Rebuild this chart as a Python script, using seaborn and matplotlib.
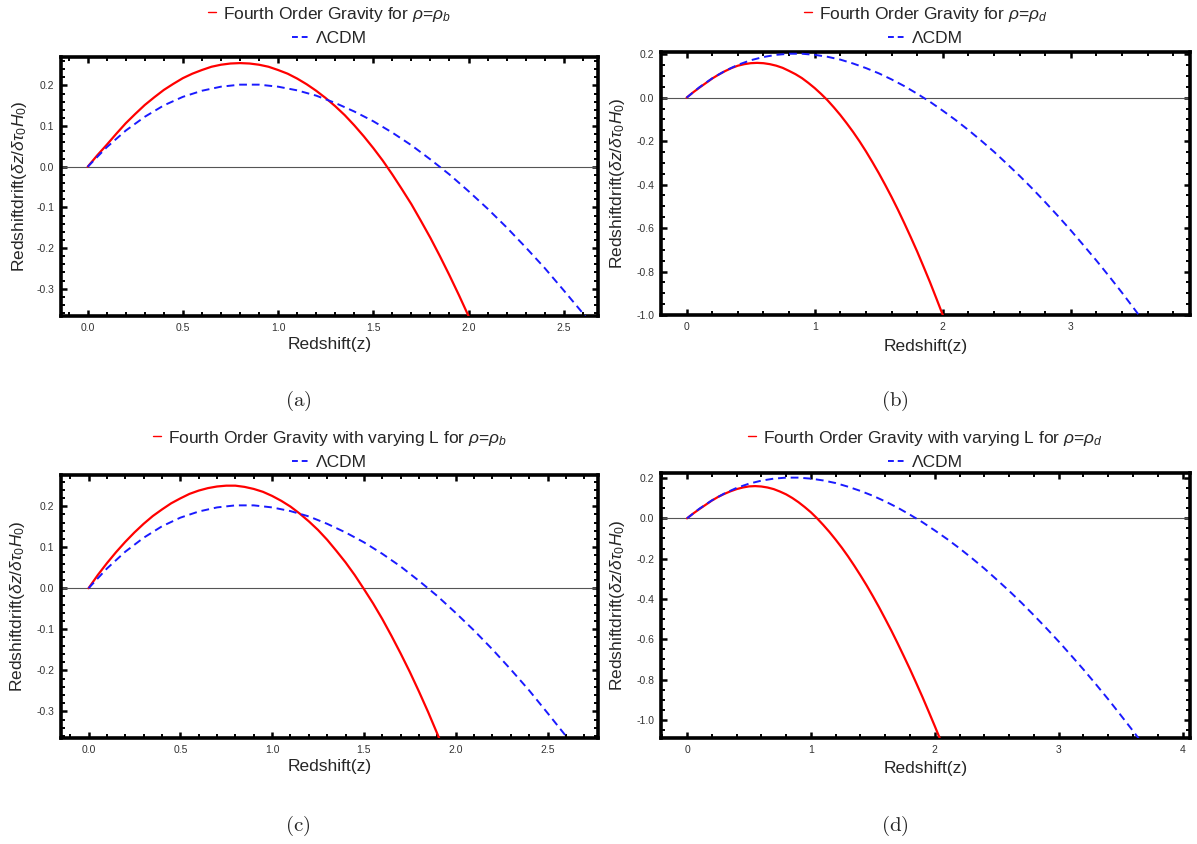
import matplotlib
matplotlib.use("Agg")
import matplotlib.pyplot as plt
import seaborn as sns
from matplotlib.lines import Line2D
from matplotlib.ticker import MultipleLocator, FormatStrFormatter

# ---------------- data ----------------
z_lcdm = [0.0, 0.1, 0.2, 0.3, 0.4, 0.5, 0.6, 0.7, 0.8, 0.9,
          1.0, 1.1, 1.2, 1.3, 1.4, 1.5, 1.6, 1.7, 1.8, 1.9,
          2.0, 2.1, 2.2, 2.3, 2.4, 2.5, 2.6, 2.7, 2.8, 2.9,
          3.0, 3.1, 3.2, 3.3, 3.4, 3.5, 3.6, 3.7, 3.8]
drift_lcdm = [0.000, 0.048, 0.089, 0.123, 0.151, 0.172, 0.187, 0.197, 0.202, 0.202,
              0.197, 0.188, 0.175, 0.157, 0.136, 0.112, 0.084, 0.053, 0.018, -0.019,
              -0.060, -0.103, -0.149, -0.198, -0.249, -0.304, -0.360, -0.419, -0.481, -0.545,
              -0.611, -0.680, -0.750, -0.823, -0.898, -0.976, -1.055, -1.137, -1.220]

z_red = [0.00, 0.05, 0.10, 0.15, 0.20, 0.25, 0.30, 0.35, 0.40, 0.45,
         0.50, 0.55, 0.60, 0.65, 0.70, 0.75, 0.80, 0.85, 0.90, 0.95,
         1.00, 1.05, 1.10, 1.15, 1.20, 1.25, 1.30, 1.35, 1.40, 1.45,
         1.50, 1.55, 1.60, 1.65, 1.70, 1.75, 1.80, 1.85, 1.90, 1.95,
         2.00, 2.05, 2.10]

drift_red_a = [0.000, 0.028, 0.054, 0.081, 0.107, 0.130, 0.152, 0.171, 0.189, 0.204,
               0.218, 0.229, 0.238, 0.246, 0.251, 0.254, 0.255, 0.254, 0.251, 0.246,
               0.238, 0.229, 0.217, 0.203, 0.187, 0.169, 0.149, 0.127, 0.102, 0.075,
               0.046, 0.015, -0.019, -0.055, -0.092, -0.133, -0.175, -0.220, -0.267, -0.316,
               -0.367, -0.421, -0.477]

drift_red_b = [0.000, 0.024, 0.046, 0.067, 0.088, 0.106, 0.122, 0.136, 0.147, 0.154,
               0.1585, 0.160, 0.1585, 0.154, 0.147, 0.137, 0.123, 0.108, 0.090, 0.068,
               0.044, 0.017, -0.012, -0.045, -0.080, -0.118, -0.158, -0.201, -0.247, -0.296,
               -0.347, -0.401, -0.457, -0.516, -0.578, -0.642, -0.708, -0.778, -0.849, -0.924,
               -1.000, -1.080, -1.161]

drift_red_c = [0.000, 0.032, 0.061, 0.088, 0.113, 0.136, 0.157, 0.176, 0.192, 0.207,
               0.219, 0.230, 0.238, 0.244, 0.248, 0.250, 0.250, 0.247, 0.242, 0.235,
               0.225, 0.213, 0.199, 0.182, 0.163, 0.142, 0.118, 0.091, 0.063, 0.032,
               -0.002, -0.037, -0.075, -0.116, -0.159, -0.204, -0.252, -0.302, -0.355, -0.410,
               -0.467, -0.527, -0.589]

drift_red_d = [0.000, 0.024, 0.046, 0.067, 0.088, 0.106, 0.121, 0.134, 0.145, 0.153,
               0.1585, 0.160, 0.158, 0.153, 0.145, 0.133, 0.119, 0.101, 0.080, 0.056,
               0.030, 0.000, -0.033, -0.068, -0.106, -0.146, -0.189, -0.235, -0.283, -0.333,
               -0.386, -0.441, -0.499, -0.558, -0.620, -0.684, -0.749, -0.817, -0.886, -0.958,
               -1.031, -1.106, -1.182]

legend_red = [r"Fourth Order Gravity for $\rho$=$\rho_b$",
              r"Fourth Order Gravity for $\rho$=$\rho_d$",
              r"Fourth Order Gravity with varying L for $\rho$=$\rho_b$",
              r"Fourth Order Gravity with varying L for $\rho$=$\rho_d$"]
legend_blue = "ΛCDM"
captions = ["(a)", "(b)", "(c)", "(d)"]
xlabel = "Redshift(z)"
ylabel = r"Redshiftdrift($\delta z/\delta\tau_0 H_0$)"

# ---------------- style ----------------
sns.set_theme(style="white")
plt.rcParams["font.family"] = ["Liberation Sans", "DejaVu Sans"]
plt.rcParams["mathtext.fontset"] = "custom"
plt.rcParams["mathtext.rm"] = "Liberation Sans"
plt.rcParams["mathtext.it"] = "Liberation Sans:italic"
plt.rcParams["mathtext.bf"] = "Liberation Sans:bold"

W, H = 1197, 844
fig = plt.figure(figsize=(W / 100, H / 100), dpi=100)
fig.patch.set_facecolor("white")

# pixel boxes: left, right, top, bottom
panels = [
    dict(box=(61, 598, 57, 316), xlim=(-0.14, 2.68), ylim=(-0.367, 0.27),
         xmaj=0.5, xmin=0.1, ymaj=0.1, ymin=0.02, xfmt="%.1f",
         red=drift_red_a, ylab_x=-0.06, xlab_y=345, cap_y=401, cx=298),
    dict(box=(661, 1190, 52, 315), xlim=(-0.2, 3.93), ylim=(-1.0, 0.21),
         xmaj=1.0, xmin=0.2, ymaj=0.2, ymin=0.05, xfmt="%d",
         red=drift_red_b, ylab_x=-0.064, xlab_y=346, cap_y=401, cx=895),
    dict(box=(61, 598, 475, 738), xlim=(-0.15, 2.775), ylim=(-0.365, 0.276),
         xmaj=0.5, xmin=0.1, ymaj=0.1, ymin=0.02, xfmt="%.1f",
         red=drift_red_c, ylab_x=-0.063, xlab_y=767, cap_y=826, cx=298),
    dict(box=(661, 1190, 473, 738), xlim=(-0.21, 4.06), ylim=(-1.09, 0.225),
         xmaj=1.0, xmin=0.2, ymaj=0.2, ymin=0.05, xfmt="%d",
         red=drift_red_d, ylab_x=-0.064, xlab_y=768, cap_y=826, cx=895),
]
title_rows = [(14, 38), (14, 38), (438, 462), (438, 462)]

for i, p in enumerate(panels):
    l, r, t, b = p["box"]
    ax = fig.add_axes([l / W, 1 - b / H, (r - l) / W, (b - t) / H])
    ax.set_facecolor("white")
    ax.axhline(0, color="#555555", lw=0.8, zorder=1)
    sns.lineplot(x=z_red, y=p["red"], ax=ax, color="#ff0000", lw=1.6,
                 estimator=None, sort=False, zorder=3)
    sns.lineplot(x=z_lcdm, y=drift_lcdm, ax=ax, color="#1a1aff", lw=1.4,
                 linestyle=(0, (4, 2.5)), estimator=None, sort=False, zorder=4)
    ax.set_xlim(*p["xlim"])
    ax.set_ylim(*p["ylim"])
    for s in ax.spines.values():
        s.set_linewidth(2.6)
        s.set_color("black")
    ax.xaxis.set_major_locator(MultipleLocator(p["xmaj"]))
    ax.xaxis.set_minor_locator(MultipleLocator(p["xmin"]))
    ax.yaxis.set_major_locator(MultipleLocator(p["ymaj"]))
    ax.yaxis.set_minor_locator(MultipleLocator(p["ymin"]))
    ax.xaxis.set_major_formatter(FormatStrFormatter(p["xfmt"]))
    ax.yaxis.set_major_formatter(FormatStrFormatter("%.1f"))
    ax.tick_params(which="both", direction="in", top=True, right=True,
                   bottom=True, left=True, color="black")
    ax.tick_params(which="major", length=4.5, width=1.8, labelsize=7.5,
                   labelcolor="#333333", pad=5)
    ax.tick_params(which="minor", length=2.8, width=1.4)
    ax.set_xlabel(xlabel, fontsize=12.5)
    ax.set_ylabel(ylabel, fontsize=12.5)
    ax.xaxis.set_label_coords(0.5, (b - p["xlab_y"]) / (b - t))
    ax.xaxis.label.set_verticalalignment("center")
    ax.yaxis.set_label_coords(p["ylab_x"], 0.5)
    ax.grid(False)

    cx = (l + r) / 2 / W
    y1, y2 = title_rows[i]
    h_red = Line2D([], [], color="#ff0000", lw=1.0)
    h_blue = Line2D([], [], color="#1a1aff", lw=1.4, linestyle=(0, (3, 2)))
    leg1 = ax.legend([h_red], [legend_red[i]], loc="center",
                     bbox_to_anchor=(cx, 1 - y1 / H), bbox_transform=fig.transFigure,
                     frameon=False, fontsize=12.5, handlelength=0.45,
                     handletextpad=0.4, borderpad=0, borderaxespad=0)
    ax.add_artist(leg1)
    ax.legend([h_blue], [legend_blue], loc="center",
              bbox_to_anchor=(cx, 1 - y2 / H), bbox_transform=fig.transFigure,
              frameon=False, fontsize=12.5, handlelength=1.0,
              handletextpad=0.4, borderpad=0, borderaxespad=0)

    fig.text(p["cx"] / W, 1 - p["cap_y"] / H, r"$\mathrm{" + captions[i] + "}$",
             math_fontfamily="cm", fontsize=15, ha="center", va="center")

fig.savefig("out.png", dpi=100, facecolor="white")
